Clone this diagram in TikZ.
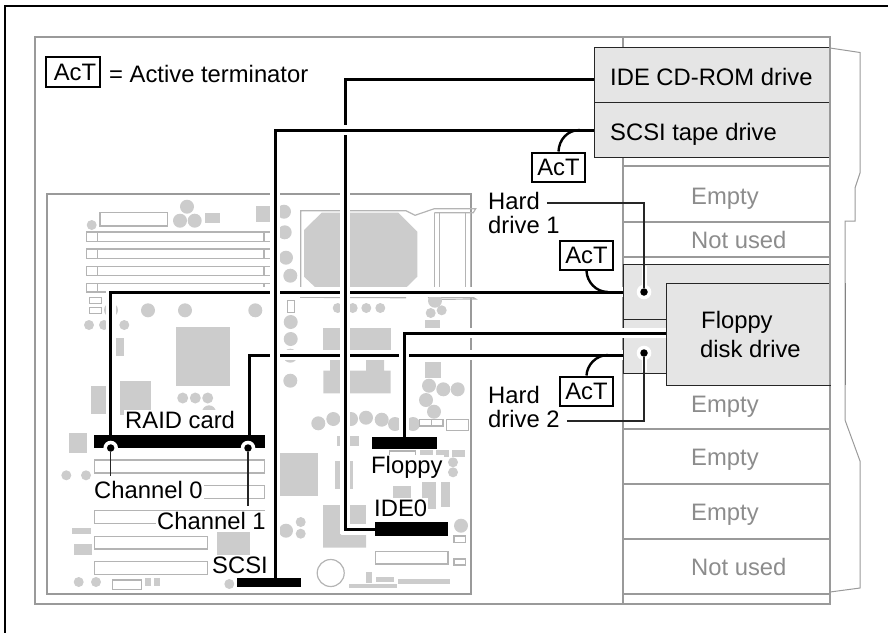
\documentclass[tikz,border=0pt]{standalone}
\usepackage{fontspec}
\setmainfont{Liberation Sans}
\usetikzlibrary{calc}
\definecolor{partgray}{HTML}{CCCCCC}
\definecolor{linegray}{HTML}{B4B4B4}
\definecolor{framegray}{HTML}{9A9A9A}
\definecolor{drivefill}{HTML}{E5E5E5}
\definecolor{txtgray}{HTML}{8C8C8C}
\tikzset{
  lbl/.style={anchor=base west,inner sep=1pt,fill=white,text=black,font=\fontsize{23.8}{28}\selectfont},
  baylbl/.style={anchor=base west,inner sep=0pt,text=txtgray,font=\fontsize{23.8}{28}\selectfont},
  drivelbl/.style={anchor=base west,inner sep=0pt,text=black,font=\fontsize{23.8}{28}\selectfont},
  bayline/.style={draw=framegray,line width=1.2pt},
  drivebox/.style={draw=black!85,line width=1.2pt,fill=drivefill,inner sep=0pt,anchor=north west},
  actbox/.style={draw=black,line width=2pt,fill=white,inner sep=0pt,minimum width=53pt,minimum height=29pt,font=\fontsize{23.8}{28}\selectfont},
  conn/.style={fill=black,inner sep=0pt,anchor=north west},
  halo/.style={draw=white,line width=10pt},
  cable/.style={draw=black,line width=3pt},
  lead/.style={draw=black!85,line width=1.3pt},
  dot/.style={circle,fill=black,inner sep=0pt,minimum size=7.5pt},
  outl/.style={draw=linegray,line width=1.2pt},
}
\newcommand{\pc}[3]{\fill[partgray] (#1,#2) circle (#3);}
\newcommand{\pr}[4]{\fill[partgray] (#1,#2) rectangle (#3,#4);}
\newcommand{\po}[4]{\draw[outl] (#1,#2) rectangle (#3,#4);}
\begin{document}
\begin{tikzpicture}[x=1pt,y=-1pt]
\useasboundingbox (0,0) rectangle (888,633);
% outer frame
\draw[black,line width=1.2pt] (888,6) -- (5,6) -- (5,633);
% chassis
\draw[bayline] (35,37) rectangle (830,604);
\draw[bayline] (623,37) -- (623,604);
\foreach \y in {166,222,257,429,484,539,594} \draw[bayline] (623,\y) -- (830,\y);
% bezel
\draw[draw=framegray,line width=1pt] (830,48) -- (860,52.5) -- (860,173) -- (855,188) -- (855,221) -- (845,221) -- (845,420) -- (860,461) -- (860,588) -- (830,592);
\draw[draw=framegray!85!black,line width=1pt] (845,283) -- (845,385);
% board
\draw[draw=framegray,line width=1.2pt] (47,194) rectangle (471,594);
% memory slots
\foreach \a/\b in {232/241.7,249/258.3,266.3/275.7,283.3/292}{
  \po{86.7}{\a}{273}{\b}
  \draw[outl] (97.7,\a) -- (97.7,\b) (264,\a) -- (264,\b);
}
\po{100}{212.7}{167.7}{226}
\pc{187}{206.7}{7}\pc{180}{220.7}{7}\pc{194.7}{220.7}{7}
\pr{205}{213}{220}{222.7}\pr{256}{206}{270}{222}
\pc{91.7}{225}{5}
\pc{284}{211.7}{7}\pc{284.7}{232.3}{7}\pc{286}{257.7}{7}\pc{290.3}{275.7}{7}
\po{89.3}{297.3}{101.7}{303.3}\po{89.3}{307.3}{101.7}{313.7}
\pc{111}{310}{7}\pc{148}{310.3}{7}\pc{185}{310.3}{7}\pc{255.3}{310.3}{7}
\pc{89}{325}{5}\pc{104}{325}{5}\pc{124.3}{325}{5}
\pr{115.3}{338}{124}{355.7}\pr{176}{327}{230}{386}
\pr{91}{386}{106}{414}\pr{120}{381}{151}{415}
\pc{182.7}{398}{5.5}\pc{195.3}{398}{5.5}\pc{207.7}{398}{5.5}\pc{209}{412.3}{7}
\pr{323}{328}{391}{350}
\po{287.7}{300.7}{294.7}{312.3}
\pc{290.7}{322}{7}\pc{290.7}{339}{7}\pc{290.3}{355.7}{7}\pc{290.3}{380.7}{7}
% CPU
\fill[partgray] (321.7,212.7) -- (398.3,212.7) -- (417.3,231.7) -- (417.3,276.7) -- (406,287.7) -- (315.7,287.7) -- (304,276.7) -- (304,230) -- cycle;
\draw[outl] (300.7,287) -- (300.7,210.7) -- (406,210.7) -- (415,215.3) -- (434.3,208.7) -- (475.7,208.7) -- (473.3,212.7) -- (434.3,212.7);
\draw[outl] (300,297.3) -- (406,297.7) (428,297.3) -- (433,299.3) -- (475.7,299) -- (473,297.3) -- (428,297.3);
\foreach \x in {434.3,439.3,465.7,470.7} \draw[outl] (\x,212.7) -- (\x,297.3);
\pc{337.7}{308}{5}\pc{352.7}{308}{5}\pc{366.3}{308}{5}\pc{380.3}{308}{5}
\pc{435}{300.7}{7}\pc{430.7}{313}{5}\pc{441.7}{310.3}{5}\pr{425}{320.3}{440}{328.7}
\fill[partgray] (323.3,370.7) -- (330,370.7) -- (330,360) -- (344,360) -- (344,370.7) -- (366,370.7) -- (366,360) -- (384,360) -- (384,370.7) -- (390.7,370.7) -- (390.7,393.3) -- (323.3,393.3) -- cycle;
\pr{425}{362}{441}{377.7}
\pc{429}{385.7}{7}\pc{443.3}{389.3}{7}\pc{457.7}{389.3}{7}\pc{426}{400}{7}\pc{434}{411.7}{7}
\pc{318.3}{423.3}{7}\pc{333.3}{419}{7}\pc{351}{419}{7}\pc{366}{417.7}{7}\pc{381.7}{419.7}{7}\pc{395}{424}{7}\pc{413}{424}{7}
\po{419.3}{419.3}{431.3}{426}\po{431.3}{419.3}{443}{426}\po{446.7}{419.3}{468.3}{430.7}
\pr{337.3}{436}{340.7}{446}\pr{350}{436}{359}{446}
\po{389.3}{451}{415.7}{465}
\pr{420}{450}{433.3}{457}\pr{436}{450}{449}{457}\pr{452}{450}{465}{457}
\pc{453}{462.3}{5}\pc{453}{472.3}{5}
\pr{335}{461}{340.7}{489}\pr{350}{461}{353}{489}
\pr{393}{486}{411}{510}\pr{422}{482}{436}{509}\pr{441}{482}{450}{507}
\fill[partgray] (323,505) -- (341,505) -- (341,535) -- (366,535) -- (366,547.7) -- (323,547.7) -- cycle;
\pr{350}{505}{366}{524}
\pr{279.3}{453.3}{318}{495.7}
\pc{461}{525.7}{7}\po{454}{536}{465.7}{542.3}\po{454}{559}{465.7}{565}
\po{375.7}{551.3}{448}{564}
\draw[outl] (330.7,573) circle (13.5);
\pr{366}{572}{372}{583}\pr{376}{577}{394}{582}\pr{349}{584}{397}{588}\pr{398}{579}{450}{584}
\pr{69}{433}{87}{453}
\po{94.3}{460}{264.7}{473}\po{94.3}{485.3}{264.7}{498.3}\po{94.3}{510.7}{264.7}{523.7}
\po{94.3}{536.3}{207.3}{549}\po{94.3}{561.3}{207.3}{574.3}
\pc{66.3}{475.3}{5}\pc{86}{475.3}{5}
\pr{72}{528}{91}{534}\pr{74}{544}{92}{555}
\pr{217}{532}{250}{568}
\pc{78.7}{582}{5}\pc{96}{582}{5}\pc{229.3}{584}{5}
\po{112.3}{580}{141.7}{589.3}
\pr{145}{578.3}{150.7}{585.7}\pr{154}{578.3}{160}{585.7}
\pc{286}{530.7}{7}\pc{300.7}{522}{5}\pc{300.7}{533.7}{5}
% labels on the board
\node[lbl] (lraid) at (124,428) {RAID card};
\node[lbl] (lch0) at (93,498) {Channel 0};
\node[lbl] (lch1) at (156,529) {Channel 1};
\node[lbl] (lscsi) at (211,573) {SCSI};
\node[lbl] (lfloppy) at (370,473) {Floppy};
\node[lbl] (lide) at (373,516) {IDE0};
% connectors
\node[conn,minimum width=171pt,minimum height=13pt] (raid) at (94,435) {};
\node[conn,minimum width=65pt,minimum height=12pt] (fconn) at (372,437) {};
\node[conn,minimum width=73pt,minimum height=14pt] (ide) at (375,522) {};
\node[conn,minimum width=64pt,minimum height=9pt] (scsi) at (237,578) {};
% drives
\node[drivebox,minimum width=236pt,minimum height=55pt] (cd) at (594,47) {};
\node[drivebox,minimum width=236pt,minimum height=55pt] (tape) at (594,102) {};
\node[drivebox,minimum width=207pt,minimum height=55pt] (hd1) at (623,264) {};
\node[drivebox,minimum width=207pt,minimum height=54pt] (hd2) at (623,319) {};
\node[drivebox,minimum width=164pt,minimum height=102pt] (fl) at (666,283) {};
\draw[draw=framegray,line width=1.2pt] (830,47) -- (830,385);
\node[drivelbl] (tcd) at (610,85) {IDE CD-ROM drive};
\node[drivelbl] (ttape) at (610,140) {SCSI tape drive};
\node[drivelbl] (tfl1) at (701,328) {Floppy};
\node[drivelbl] (tfl2) at (700,357) {disk drive};
\node[baylbl] (e1) at (691,204) {Empty};
\node[baylbl] (n1) at (691,248) {Not used};
\node[baylbl] (e2) at (691,412) {Empty};
\node[baylbl] (e3) at (691,465) {Empty};
\node[baylbl] (e4) at (691,520) {Empty};
\node[baylbl] (n2) at (691,575) {Not used};
% cables
\path[halo] (hd2.west |- 0,355) -- (249,355) -- (249,435);
\draw[cable] (hd2.west |- 0,355) -- (249,355) -- (249,435);
\path[halo] (fl.west |- 0,333) -- (404,333) -- (404,437);
\draw[cable] (fl.west |- 0,333) -- (404,333) -- (404,437);
\path[halo] (hd1.west |- 0,292) -- (110.5,292) -- (110.5,435);
\draw[cable] (hd1.west |- 0,292) -- (110.5,292) -- (110.5,435);
\path[halo] (cd.west |- 0,79) -- (345,79) -- (345,529) -- (ide.west |- 0,529);
\draw[cable] (cd.west |- 0,79) -- (345,79) -- (345,529) -- (ide.west |- 0,529);
\path[halo] (tape.west |- 0,130) -- (275,130) -- (275,578);
\draw[cable] (tape.west |- 0,130) -- (275,130) -- (275,578);
% active terminators
\node[actbox] (act1) at (558.5,167) {AcT};
\node[actbox] (act2) at (586.5,255.5) {AcT};
\node[actbox] (act3) at (586.5,391) {AcT};
\draw[black,line width=2.4pt] (act1.north) .. controls (559,140) and (567,130) .. (580,130);
\draw[black,line width=2.4pt] (act2.south) .. controls (587,282) and (596,292) .. (608,292);
\draw[black,line width=2.4pt] (act3.north) .. controls (587,365) and (596,355) .. (608,355);
\node[draw=black,line width=2pt,inner sep=0pt,minimum width=54pt,minimum height=30pt,font=\fontsize{23.8}{28}\selectfont,text depth=0pt] (actl) at (73,72) {\hspace*{4pt}AcT};
\node[drivelbl] (tact) at (109,82) {= Active terminator};
% leaders
\node[drivelbl] (th1a) at (488,209) {Hard};
\node[drivelbl] (th1b) at (488,233) {drive 1};
\node[drivelbl] (th2a) at (488,403) {Hard};
\node[drivelbl] (th2b) at (488,427) {drive 2};
\coordinate (d1) at (644,292);
\coordinate (d2) at (644,353);
\fill[white] (d1) circle (7.3) (d2) circle (7.3);
\draw[white,line width=5pt] (644,266) -- (d1) (644,372) -- (d2);
\node[dot] (dd1) at (d1) {};
\node[dot] (dd2) at (d2) {};
\draw[lead] (th1a.east |- 0,203) ++(7,0) -- (644,203) -- (dd1);
\draw[lead] (th2b.east |- 0,421) ++(7,0) -- (644,421) -- (dd2);
\fill[white] (110.7,448) circle (7.3) (248,448) circle (7.3);
\node[dot] (c0) at (110.7,448) {};
\node[dot] (c1) at (248,448) {};
\draw[lead] (c0) -- (110.7,476);
\draw[lead] (c1) -- (248,506);
\end{tikzpicture}
\end{document}
